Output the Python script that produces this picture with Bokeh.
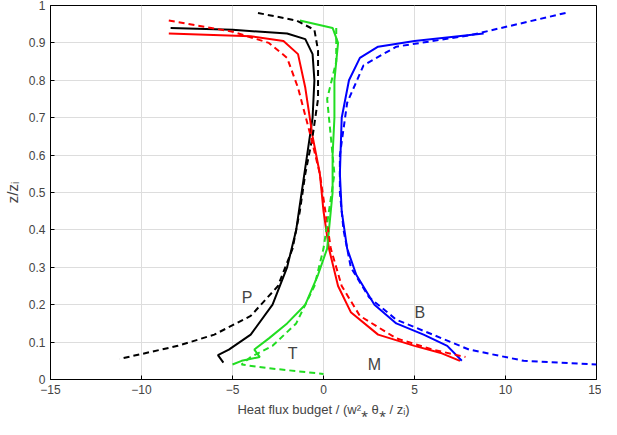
from bokeh.plotting import figure
from bokeh.embed import file_html
from bokeh.resources import INLINE
from bokeh.models import FixedTicker, Label

P_sx=[-8.4,-5,-2,-1.0,-0.6,-0.5,-0.6,-0.9,-1.2,-1.5,-2,-2.8,-4,-5.2,-5.8,-5.5]
P_sy=[0.94,0.935,0.925,0.91,0.87,0.8,0.7,0.6,0.5,0.4,0.3,0.2,0.12,0.08,0.065,0.045]
P_dx=[-3.6,-1.5,-0.5,-0.3,-0.3,-0.6,-1,-1.3,-1.7,-2.5,-4,-6,-8,-11.2]
P_dy=[0.98,0.96,0.935,0.88,0.75,0.65,0.55,0.45,0.35,0.25,0.17,0.12,0.09,0.055]
M_sx=[-8.5,-4,-2.2,-1.4,-1.0,-0.6,-0.2,0,0.3,0.8,1.5,3,5,6.5,7.5]
M_sy=[0.925,0.918,0.905,0.87,0.78,0.65,0.55,0.45,0.35,0.25,0.18,0.12,0.09,0.07,0.05]
M_dx=[-8.5,-5,-3,-2,-1.4,-0.7,-0.2,0.1,0.4,1,2,4,6,7.8]
M_dy=[0.96,0.93,0.9,0.86,0.78,0.65,0.55,0.45,0.35,0.25,0.17,0.11,0.08,0.06]
B_sx=[8.8,5,3,2,1.4,1,0.9,1,1.3,1.8,2.8,4,5.5,6.8,7.6]
B_sy=[0.925,0.905,0.89,0.86,0.8,0.7,0.55,0.45,0.35,0.28,0.2,0.15,0.12,0.09,0.05]
B_dx=[13.3,8,4,2.2,1.3,0.9,0.9,1.1,1.5,2.5,4,6,8,11,15]
B_dy=[0.98,0.92,0.89,0.84,0.74,0.6,0.5,0.4,0.3,0.22,0.16,0.12,0.08,0.05,0.04]
T_sx=[-1.3,0.5,0.8,0.6,0.6,0.5,0.5,0.4,0.2,-0.3,-1,-2,-3,-3.8,-3.5,-4.5,-5]
T_sy=[0.96,0.94,0.9,0.8,0.7,0.6,0.5,0.45,0.35,0.28,0.2,0.15,0.11,0.08,0.06,0.05,0.04]
T_dx=[0.7,0.7,0.2,0.4,0.6,0.3,0,-0.5,-1.5,-2.8,-4,-4.5,-3,0]
T_dy=[0.94,0.85,0.75,0.65,0.55,0.45,0.35,0.25,0.15,0.09,0.06,0.04,0.03,0.015]
labels=["P","B","T","M"]
lab_x=[-4.2,5.3,-1.7,2.8]
lab_y=[0.22,0.18,0.07,0.04]

p=figure(width=601,height=419,x_range=(-15,15),y_range=(0,1),output_backend="svg",toolbar_location=None)
p.outline_line_color="black"
p.xaxis.ticker=FixedTicker(ticks=[-15,-10,-5,0,5,10,15])
p.yaxis.ticker=FixedTicker(ticks=[i/10 for i in range(11)])
p.yaxis.major_label_overrides={0:"0",1:"1"}
p.grid.grid_line_color="#dddddd"
for ax in (p.xaxis[0],p.yaxis[0]):
    ax.major_label_text_font_size="12px"; ax.minor_tick_line_color=None
    ax.axis_label_text_font_style="normal"; ax.axis_label_text_font_size="13px"
    ax.major_tick_in=4; ax.major_tick_out=0
p.xaxis.axis_label="Heat flux budget / (w²⁎ θ⁎ / zᵢ)"
p.yaxis.axis_label="z/zᵢ"
p.yaxis.axis_label_text_font_size="15px"
for xs,ys,c in [(P_sx,P_sy,"black"),(M_sx,M_sy,"red"),(B_sx,B_sy,"blue"),(T_sx,T_sy,"#22dd22")]:
    p.line(xs,ys,color=c,line_width=2)
for xs,ys,c in [(P_dx,P_dy,"black"),(M_dx,M_dy,"red"),(B_dx,B_dy,"blue"),(T_dx,T_dy,"#22dd22")]:
    p.line(xs,ys,color=c,line_width=2,line_dash="6 4")
for t,x,y in zip(labels,lab_x,lab_y):
    p.add_layout(Label(x=x,y=y,text=t,text_font_size="16px",text_align="center",text_baseline="middle"))
open("out.html","w").write(file_html(p,INLINE))
